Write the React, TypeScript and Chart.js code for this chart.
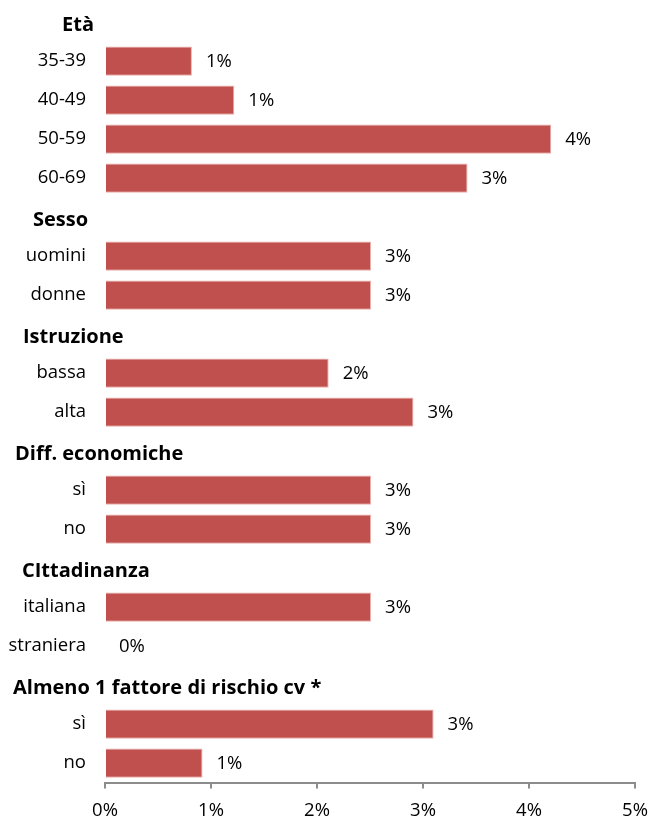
import React, { useEffect, useRef } from "react";
import { Chart, registerables } from "chart.js";

Chart.register(...registerables);

const categories = [
  "Età", "35-39", "40-49", "50-59", "60-69",
  "Sesso", "uomini", "donne",
  "Istruzione", "bassa", "alta",
  "Diff. economiche", "sì", "no",
  "CIttadinanza", "italiana", "straniera",
  "Almeno 1 fattore di rischio cv *", "sì", "no",
];

const isHeader = [
  true, false, false, false, false,
  true, false, false,
  true, false, false,
  true, false, false,
  true, false, false,
  true, false, false,
];

const values: (number | null)[] = [
  null, 0.82, 1.22, 4.21, 3.42,
  null, 2.51, 2.51,
  null, 2.11, 2.91,
  null, 2.51, 2.51,
  null, 2.51, 0,
  null, 3.1, 0.92,
];

const xTicks = [0, 1, 2, 3, 4, 5];

const FONT = "'Open Sans', sans-serif";

export default function App() {
  const ref = useRef<HTMLCanvasElement | null>(null);

  useEffect(() => {
    if (!ref.current) return;

    const headerIndent = [62, 33, 23, 15, 22, 13];

    const labelPlugin = {
      id: "customLabels",
      afterDatasetsDraw(chart: any) {
        const ctx = chart.ctx;
        const meta = chart.getDatasetMeta(0);
        const xScale = chart.scales.x;
        ctx.save();
        ctx.fillStyle = "#000";
        ctx.textBaseline = "middle";
        ctx.font = `18.5px ${FONT}`;
        ctx.textAlign = "left";
        meta.data.forEach((bar: any, i: number) => {
          const v = values[i];
          if (v === null || v === undefined) return;
          const xEnd = xScale.getPixelForValue(v);
          ctx.fillText(`${Math.round(v)}%`, xEnd + 14, bar.y + 1);
        });
        ctx.font = `bold 20px ${FONT}`;
        let h = 0;
        categories.forEach((c, i) => {
          if (!isHeader[i]) return;
          const y = chart.scales.y.getPixelForValue(i);
          ctx.fillText(c, headerIndent[h] ?? 13, y + 3);
          h++;
        });
        ctx.restore();
      },
    };

    const chart = new Chart(ref.current, {
      type: "bar",
      data: {
        labels: categories,
        datasets: [
          {
            data: values as any,
            backgroundColor: "#C0504D",
            borderColor: "#E9AEAC",
            borderWidth: 1,
            barPercentage: 0.75,
            categoryPercentage: 1,
          },
        ],
      },
      options: {
        indexAxis: "y",
        animation: false,
        responsive: true,
        maintainAspectRatio: false,
        layout: { padding: { top: 2.5, right: 14, left: 0, bottom: 0 } },
        plugins: {
          legend: { display: false },
          tooltip: { enabled: false },
        },
        scales: {
          x: {
            type: "linear",
            min: 0,
            max: 5,
            afterBuildTicks(scale: any) {
              scale.ticks = xTicks.map((v) => ({ value: v }));
            },
            afterFit(scale: any) {
              scale.height = 35.5;
              scale.paddingLeft = 0;
              scale.paddingRight = 0;
            },
            ticks: {
              color: "#000",
              font: { family: FONT, size: 18.5 },
              padding: 11,
              callback: (v: any) => `${v}%`,
            },
            grid: {
              drawOnChartArea: false,
              drawTicks: true,
              tickLength: 6,
              color: "#8C8C8C",
              lineWidth: 2,
            },
            border: { display: true, color: "#8C8C8C", width: 2 },
          },
          y: {
            afterFit(scale: any) {
              scale.width = 105;
              scale.paddingTop = 0;
              scale.paddingBottom = 0;
            },
            ticks: {
              color: "#000",
              font: { family: FONT, size: 18.5 },
              padding: 19,
              autoSkip: false,
              callback: (_v: any, i: number) => (isHeader[i] ? "" : categories[i]),
            },
            grid: { display: false, drawTicks: false },
            border: { display: false },
          },
        },
      },
      plugins: [labelPlugin],
    });

    return () => chart.destroy();
  }, []);

  return (
    <div style={{ position: "absolute", left: 0, top: 0, width: 649, height: 818, background: "#fff" }}>
      <canvas ref={ref} />
    </div>
  );
}
